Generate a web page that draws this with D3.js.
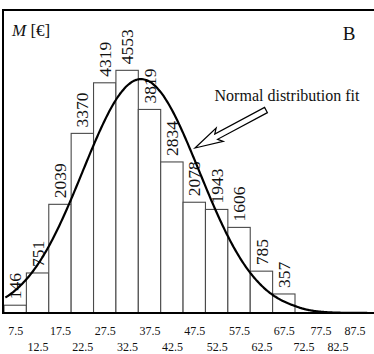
<!DOCTYPE html>
<html>
<head>
<meta charset="utf-8">
<script src="https://cdn.jsdelivr.net/npm/d3@7"></script>
<style>
  html, body { margin: 0; padding: 0; background: #fff; }
  svg { display: block; font-family: "Liberation Serif", "Times New Roman", serif; }
</style>
</head>
<body>
<svg id="chart" width="374" height="354"></svg>
<script>
// Histogram of monthly amounts M [€], 5-wide bins starting at 5
const binStarts = [5, 10, 15, 20, 25, 30, 35, 40, 45, 50, 55, 60, 65];
const counts = [146, 751, 2039, 3370, 4319, 4553, 3819, 2834, 2078, 1943, 1606, 785, 357];
const tickLabels = [7.5, 12.5, 17.5, 22.5, 27.5, 32.5, 37.5, 42.5, 47.5, 52.5, 57.5, 62.5, 67.5, 72.5, 77.5, 82.5, 87.5];
// Fitted normal distribution parameters
const fitMean = 35.6;
const fitSigma = 13;
const binWidth = 5;

const svg = d3.select("#chart");

// x axis is stretched over the data range and condensed in the empty tail
const x = d3.scaleLinear().domain([5, 70, 90]).range([4, 295, 363]);
const y = d3.scaleLinear().domain([0, 5000]).range([313, 46.5]);

// Bars
svg.append("g").selectAll("rect")
  .data(counts)
  .join("rect")
  .attr("x", (d, i) => x(binStarts[i]))
  .attr("y", d => y(d))
  .attr("width", (d, i) => x(binStarts[i] + binWidth) - x(binStarts[i]))
  .attr("height", d => y(0) - y(d))
  .attr("fill", "#fff")
  .attr("stroke", "#4a4a4a")
  .attr("stroke-width", 1.1);

// Value labels above the bars
svg.append("g").selectAll("text")
  .data(counts)
  .join("text")
  .attr("transform", (d, i) => `translate(${x(binStarts[i] + binWidth / 2)},${y(d) - 6}) rotate(-90)`)
  .attr("dy", "0.35em")
  .attr("font-size", 17.5)
  .attr("fill", "#111")
  .text(d => d);

// Normal distribution curve scaled to the histogram
const total = d3.sum(counts);
const amp = total * binWidth / (fitSigma * Math.sqrt(2 * Math.PI));
const curveX = d3.range(5.3, 93.5, 0.25);
const line = d3.line()
  .x(v => x(v))
  .y(v => y(amp * Math.exp(-0.5 * Math.pow((v - fitMean) / fitSigma, 2))))
  .curve(d3.curveBasis);
svg.append("path")
  .datum(curveX)
  .attr("d", line)
  .attr("fill", "none")
  .attr("stroke", "#000")
  .attr("stroke-width", 2.2);

// Frame: left edge, top edge and baseline
svg.append("line").attr("x1", 3).attr("x2", 3).attr("y1", 9).attr("y2", 314)
  .attr("stroke", "#000").attr("stroke-width", 2);
svg.append("line").attr("x1", 2).attr("x2", 374).attr("y1", 10).attr("y2", 10)
  .attr("stroke", "#000").attr("stroke-width", 2);
svg.append("line").attr("x1", 2).attr("x2", 374).attr("y1", 313).attr("y2", 313)
  .attr("stroke", "#000").attr("stroke-width", 2);

// Tick labels, alternating between two rows
const axis = d3.axisBottom(x)
  .tickValues(tickLabels)
  .tickSize(0)
  .tickFormat(d3.format(".1f"));
const axisG = svg.append("g")
  .attr("transform", `translate(0,313)`)
  .call(axis);
axisG.select(".domain").remove();
axisG.selectAll("text")
  .attr("font-family", "Liberation Serif, serif")
  .attr("font-size", 12)
  .attr("fill", "#111")
  .attr("y", (d, i) => i % 2 === 0 ? 21.5 : 37.5)
  .attr("dy", 0);

// Axis title and panel letter
const title = svg.append("text")
  .attr("x", 12).attr("y", 36)
  .attr("font-size", 17)
  .attr("fill", "#111");
title.append("tspan").attr("font-style", "italic").text("M");
title.append("tspan").text(" [€]");

svg.append("text")
  .attr("x", 349).attr("y", 40)
  .attr("text-anchor", "middle")
  .attr("font-size", 19)
  .attr("fill", "#111")
  .text("B");

// Annotation with a hollow arrow pointing at the curve
svg.append("text")
  .attr("x", 287).attr("y", 101)
  .attr("text-anchor", "middle")
  .attr("font-size", 16)
  .attr("fill", "#111")
  .text("Normal distribution fit");

const tip = [195, 148];
const tail = [266, 110];
const ang = Math.atan2(tail[1] - tip[1], tail[0] - tip[0]) * 180 / Math.PI;
const len = Math.hypot(tail[0] - tip[0], tail[1] - tip[1]);
const headLen = 28, headHalf = 7.5, shaftHalf = 3;
const arrowPts = [
  [0, 0], [headLen, -headHalf], [headLen - 4, -shaftHalf], [len, -shaftHalf],
  [len, shaftHalf], [headLen - 4, shaftHalf], [headLen, headHalf]
];
svg.append("path")
  .attr("transform", `translate(${tip[0]},${tip[1]}) rotate(${ang})`)
  .attr("d", d3.line()(arrowPts) + "Z")
  .attr("fill", "#fff")
  .attr("stroke", "#000")
  .attr("stroke-width", 1.2)
  .attr("stroke-linejoin", "miter");
</script>
</body>
</html>
